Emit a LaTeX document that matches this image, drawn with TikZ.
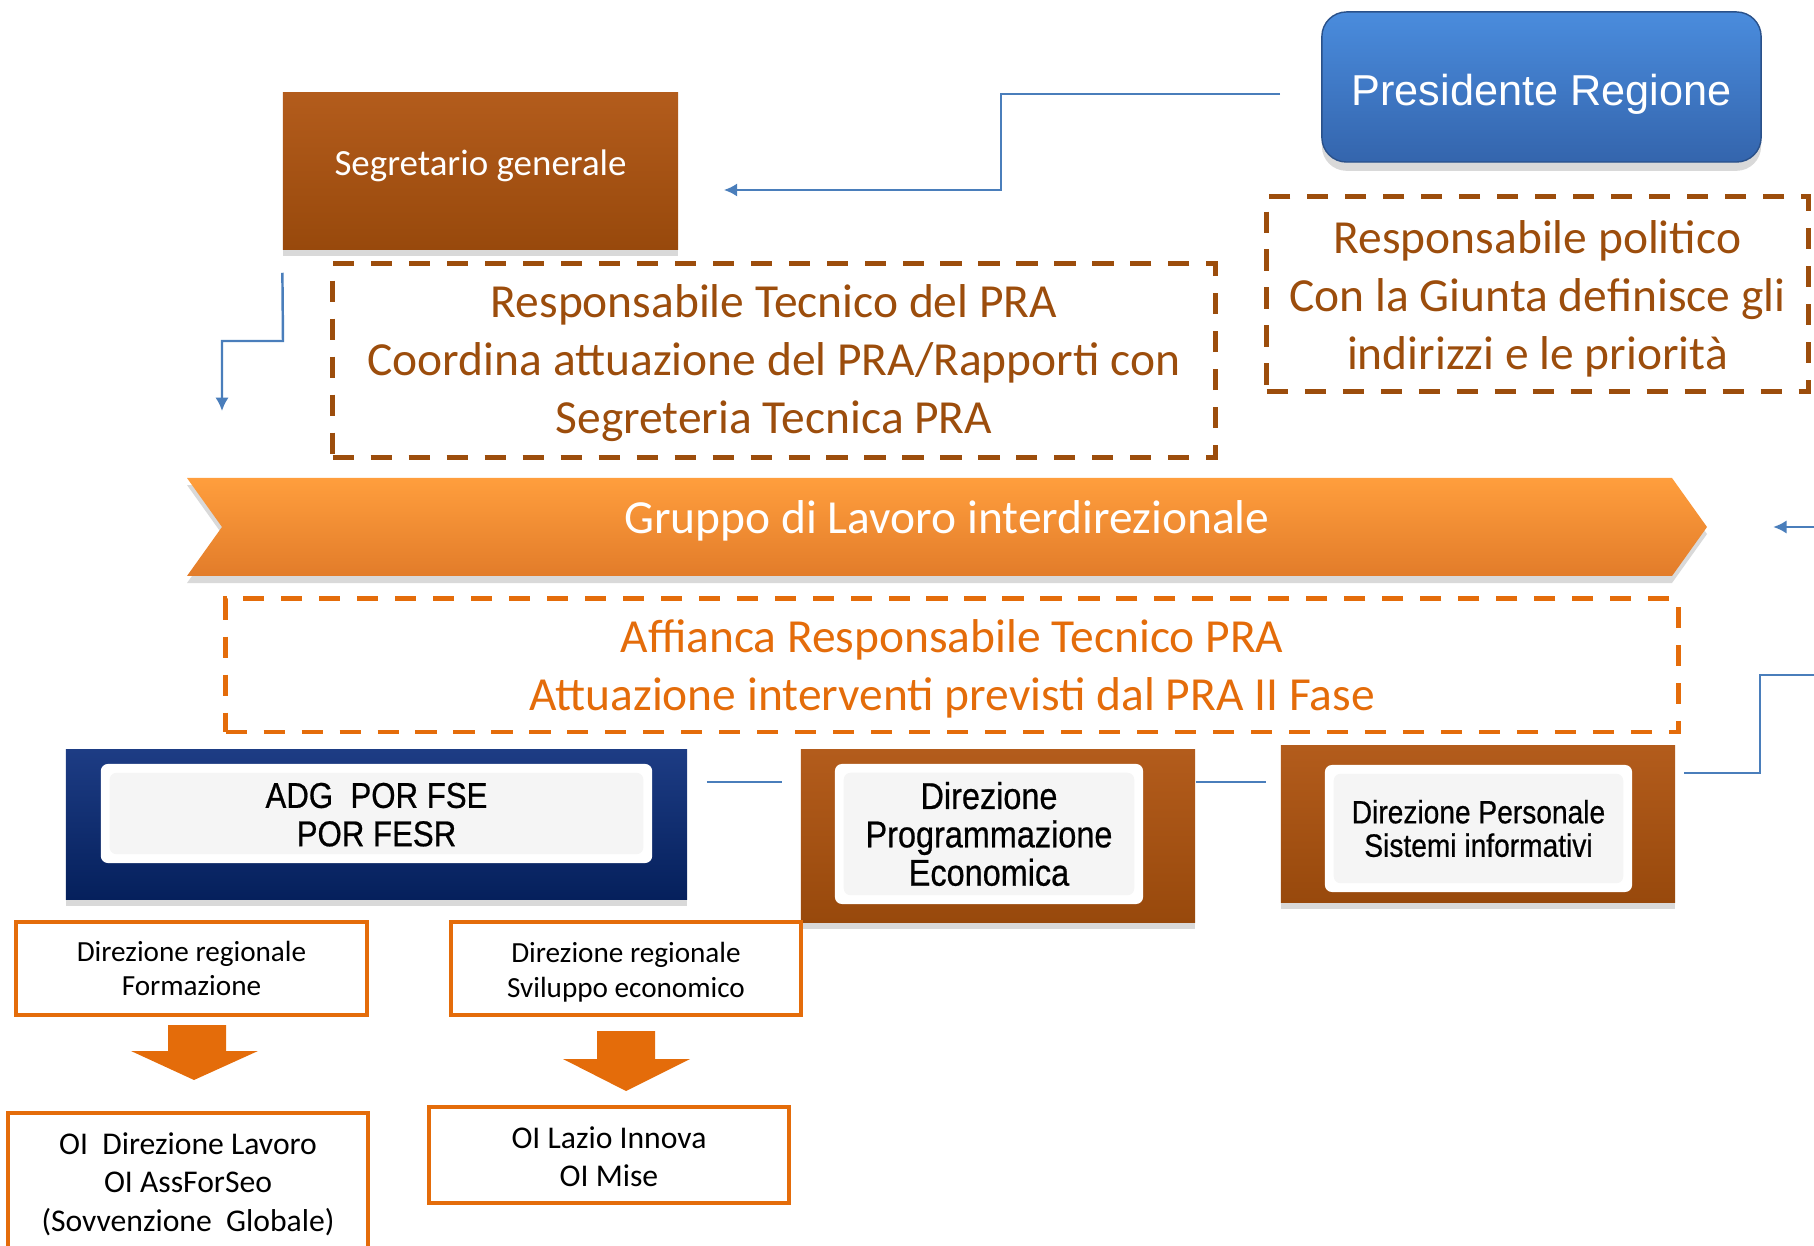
\documentclass[tikz,border=0pt]{standalone}
\usepackage{fontspec}
\setmainfont{Carlito}
\newfontfamily\arialn[FakeStretch=0.87,FakeBold=0.6]{Liberation Sans}
\newfontfamily\arial{Liberation Sans}
\usetikzlibrary{arrows.meta,shadows}

\definecolor{linkblue}{HTML}{4A7EBB}
\definecolor{brn}{HTML}{A24F0E}
\definecolor{brnlight}{HTML}{B35C1C}
\definecolor{brndark}{HTML}{98490C}
\definecolor{brntext}{HTML}{9C4D0C}
\definecolor{orng}{HTML}{E46C0A}
\definecolor{bantop}{HTML}{FF9E3D}
\definecolor{banbot}{HTML}{E27C2A}
\definecolor{navy}{HTML}{0A2768}
\definecolor{navylight}{HTML}{1D3C84}
\definecolor{navydark}{HTML}{05205C}
\definecolor{prestop}{HTML}{4A8CDD}
\definecolor{presbot}{HTML}{3465AD}
\definecolor{panelgray}{HTML}{F5F5F5}

% first baseline sits #1 above the node centre
\newcommand\lines[2]{\raisebox{#1}[0pt][0pt]{\begin{tabular}[t]{@{}c@{}}#2\end{tabular}}}

\begin{document}
\begin{tikzpicture}[x=0.01cm,y=-0.01cm,
    link/.style={draw=linkblue, line width=0.7pt},
    tip/.style={-{Latex[length=3.8pt,width=3.8pt]}},
    dashbox/.style={draw, line width=1.4pt, dash pattern=on 6pt off 4.8pt, inner sep=0pt},
    frame/.style={inner sep=0pt, top color=#1light, middle color=#1, bottom color=#1dark,
      drop shadow={shadow xshift=0pt, shadow yshift=-2pt, opacity=.3}},
    panel/.style={fill=white, rounded corners=2pt, inner sep=0pt,
      path picture={\fill[panelgray] ([shift={(2.5pt,-2.5pt)}]path picture bounding box.north west)
        rectangle ([shift={(-2.5pt,2.5pt)}]path picture bounding box.south east);}},
    obox/.style={draw=orng, line width=1.2pt, fill=white, inner sep=0pt}]

    \useasboundingbox (0,0) rectangle (1814,1246);
    \clip (0,0) rectangle (1814,1246);

    \coordinate (PRp) at (1541.5,87);
    \coordinate (SGp) at (480.5,171);
    \coordinate (RTp) at (774,360.5);
    \coordinate (RPp) at (1537.5,294);
    \coordinate (GLp) at (947,527);
    \coordinate (AFp) at (952,665.5);
    \coordinate (ADp) at (376.5,824.5);
    \coordinate (ADip) at (376.5,813.5);
    \coordinate (DEp) at (998,836);
    \coordinate (DEip) at (989,834);
    \coordinate (DPp) at (1478,824);
    \coordinate (DPip) at (1478.5,828.5);
    \coordinate (FOp) at (191.5,968.5);
    \coordinate (SVp) at (626,968.5);
    \coordinate (LVp) at (188,1187.5);
    \coordinate (LIp) at (609,1155);

    % banner
    \path[top color=bantop, bottom color=banbot,
      drop shadow={shadow xshift=0pt, shadow yshift=-2pt, opacity=.3}]
      (187,478) -- (1672,478) -- (1707,527) -- (1672,576) -- (187,576) -- (222,527) -- cycle;

    % block arrows
    \fill[orng] (168,1025) -- (226,1025) -- (226,1051) -- (258,1051) -- (194,1080)
      -- (131,1051) -- (168,1051) -- cycle;
    \fill[orng] (597,1031) -- (655,1031) -- (655,1059) -- (690,1059) -- (626,1091)
      -- (563,1059) -- (597,1059) -- cycle;

    \node[rounded corners=7pt, inner sep=0pt, top color=prestop, bottom color=presbot,
      draw=presbot!80!black, line width=0.4pt, minimum width=4.39cm, minimum height=1.5cm,
      drop shadow={shadow xshift=0pt, shadow yshift=-2.5pt, opacity=.3},
      text height=12pt, text depth=1.4pt,
      text=white, font=\arial\fontsize{12.3}{15}\selectfont] (PR) at (PRp) {Presidente Regione};
    \node[frame=brn, minimum width=3.95cm, minimum height=1.56cm, text=white,
      text height=9.6pt, text depth=7pt,
      font=\fontsize{10.5}{12}\selectfont] (SG) at (SGp) {Segretario generale};
    \node[dashbox, draw=brntext, text=brntext, minimum width=8.82cm, minimum height=1.93cm,
      font=\fontsize{13.5}{16.5}\selectfont] (RT) at (RTp)
      {\lines{12.2pt}{Responsabile Tecnico del PRA\\Coordina attuazione del PRA/Rapporti con\\Segreteria Tecnica PRA}};
    \node[dashbox, draw=brntext, text=brntext, minimum width=5.41cm, minimum height=1.94cm,
      font=\fontsize{13.5}{16.5}\selectfont] (RP) at (RPp)
      {\lines{11.6pt}{Responsabile politico\\Con la Giunta definisce gli\\indirizzi e le priorità}};
    \node[inner sep=0pt, minimum width=15.2cm, minimum height=0.98cm, text=white,
      text height=11.5pt, text depth=8pt,
      font=\fontsize{13.5}{16.5}\selectfont] (GL) at (GLp) {Gruppo di Lavoro interdirezionale};
    \node[dashbox, draw=orng, text=orng, minimum width=14.52cm, minimum height=1.33cm,
      font=\fontsize{13.5}{16.5}\selectfont] (AF) at (AFp)
      {\lines{3.65pt}{Affianca Responsabile Tecnico PRA\\Attuazione interventi previsti dal PRA II Fase}};

    \node[frame=navy, minimum width=6.21cm, minimum height=1.49cm] (AD) at (ADp) {};
    \node[panel, minimum width=5.51cm, minimum height=0.99cm,
      font=\arialn\fontsize{10.2}{10.9}\selectfont] (ADi) at (ADip) {\lines{1.6pt}{ADG~~POR FSE\\POR FESR}};
    \node[frame=brn, minimum width=3.94cm, minimum height=1.72cm] (DE) at (DEp) {};
    \node[panel, align=center, minimum width=3.08cm, minimum height=1.4cm,
      font=\arialn\fontsize{10.6}{10.9}\selectfont] (DEi) at (DEip) {Direzione\\Programmazione\\Economica};
    \node[frame=brn, minimum width=3.94cm, minimum height=1.56cm] (DP) at (DPp) {};
    \node[panel, align=center, minimum width=3.07cm, minimum height=1.27cm,
      font=\arialn\fontsize{9.2}{9.5}\selectfont] (DPi) at (DPip) {Direzione Personale\\Sistemi informativi};

    \node[obox, align=center, minimum width=3.51cm, minimum height=0.93cm,
      font=\fontsize{8.3}{9.9}\selectfont] (FO) at (FOp) {Direzione regionale\\Formazione};
    \node[obox, minimum width=3.5cm, minimum height=0.93cm,
      font=\fontsize{8.3}{9.9}\selectfont] (SV) at (SVp) {\lines{1.67pt}{Direzione regionale\\Sviluppo economico}};
    \node[obox, minimum width=3.6cm, minimum height=1.49cm,
      font=\fontsize{9}{10.9}\selectfont] (LV) at (LVp)
      {\lines{9.4pt}{OI~~Direzione Lavoro\\OI AssForSeo\\(Sovvenzione~~Globale)}};
    \node[obox, minimum width=3.6cm, minimum height=0.96cm,
      font=\fontsize{9}{10.9}\selectfont] (LI) at (LIp) {\lines{1.97pt}{OI Lazio Innova\\OI Mise}};

    % connectors
    \coordinate (k1) at (1001,94);
    \coordinate (k2) at (1001,190);
    \coordinate (k3) at (283,341);
    \coordinate (SGd) at (222,411);
    \coordinate (GLin) at (1814,527);
    \coordinate (DPin) at (1814,675);
    \coordinate (k4) at (1760,675);
    \coordinate (k5) at (1760,773);
    \coordinate (lk) at (0,782);

    \draw[link, tip, shorten <=0.41cm, shorten >=0.45cm] (PR.west |- k1) -- (k1) -- (k2) -- (SG.east |- k2);
    \draw[link, tip, shorten <=0.23cm] (SG.south west) -- (k3) -| (SGd);
    \draw[link, tip, shorten >=0.65cm] (GLin) -- (GL.east);
    \draw[link, shorten >=0.08cm] (DPin) -- (k4) -- (k5) -- (DP.east |- k5);
    \draw[link, shorten <=0.19cm, shorten >=0.18cm] (AD.east |- lk) -- (DE.west |- lk);
    \draw[link, shorten >=0.14cm] (DE.east |- lk) -- (DP.west |- lk);

\end{tikzpicture}
\end{document}
